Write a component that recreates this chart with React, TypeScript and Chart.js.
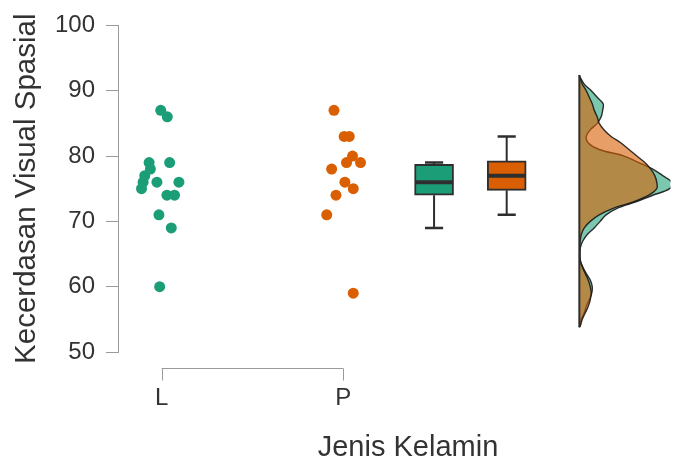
import React, { useEffect, useRef } from 'react';
import { Chart, registerables } from 'chart.js';

Chart.register(...registerables);

// ---------- data ----------
const categories = ['L', 'P'];
const xAxisTitle = 'Jenis Kelamin';
const yAxisTitle = 'Kecerdasan Visual Spasial';
const yMin = 50;
const yMax = 100;
const yStep = 10;

// raw observations (cloud points) and their horizontal jitter (category units)
const lValues = [87, 86, 79, 79, 78, 77, 76, 76, 76, 75, 74, 74, 71, 69, 60];
const lJitter = [-0.005, 0.031, -0.069, 0.044, -0.062, -0.093, -0.102, -0.026, 0.095, -0.111, 0.029, 0.071, -0.015, 0.053, -0.011];
const pValues = [87, 83, 83, 80, 79, 79, 78, 76, 75, 74, 71, 59];
const pJitter = [-0.051, 0.005, 0.033, 0.051, 0.018, 0.095, -0.064, 0.009, 0.055, -0.04, -0.091, 0.055];

// box summaries: [lower whisker, Q1, median, Q3, upper whisker]
const lBox = [69, 74, 76, 78.75, 79];
const pBox = [71, 74.75, 77, 79.25, 83];

// density (half violin)
const densityGrid = [53.8, 54, 55, 56, 57, 58, 59, 60, 61, 62, 63, 64, 65, 66, 67, 68, 69, 70, 71, 72, 73, 74, 75, 76, 77, 78, 79, 80, 81, 82, 83, 84, 85, 86, 87, 88, 89, 90, 91, 92, 92.4];
const lDensity = [0, 0.5, 2, 5, 7, 10, 12.5, 13, 11, 7, 3.5, 1, 0.5, 1, 3.5, 8, 15, 21, 27, 38, 57, 74, 91, 93, 84, 74, 60, 45, 20, 9, 7, 11, 18, 22, 23.5, 24, 18, 12, 5, 1, 0];
const pDensity = [0, 1, 3, 6, 9, 11, 12, 11, 9, 6, 3, 1, 0.5, 0.5, 0.8, 2, 5, 11, 20, 34, 55, 70, 78, 78, 76, 72, 66, 58, 50, 42, 32, 25, 20, 18, 15, 13, 10, 7, 3, 0.5, 0];

// ---------- layout (category units on the x scale) ----------
const boxPositions = [1.5, 1.9];
const boxHalf = 0.105;
const capHalf = 0.05;
const densityBase = 2.3;
const densityUnit = 1 / 183;

const GREEN = '#1b9e77';
const ORANGE = '#d95f02';
const GREEN_FILL = 'rgba(27,158,119,0.58)';
const ORANGE_FILL = 'rgba(217,95,2,0.6)';
const DARK = '#2e2e2e';
const AXIS_COLOR = '#9a9a9a';
const TEXT_COLOR = '#333333';
const FONT = '"Liberation Sans", Arial, Helvetica, sans-serif';

function seg(points: { x: number; y: number }[], width: number, order: number) {
  return {
    type: 'scatter' as const,
    data: points,
    showLine: true,
    borderColor: DARK,
    borderWidth: width,
    pointRadius: 0,
    order,
  };
}

function boxParts(pos: number, box: number[]) {
  const [lo, q1, med, q3, hi] = box;
  return [
    seg([{ x: pos, y: q3 }, { x: pos, y: hi }], 2, 2),
    seg([{ x: pos, y: lo }, { x: pos, y: q1 }], 2, 2),
    seg([{ x: pos - capHalf, y: hi }, { x: pos + capHalf, y: hi }], 2.5, 2),
    seg([{ x: pos - capHalf, y: lo }, { x: pos + capHalf, y: lo }], 2.5, 2),
    seg([{ x: pos - boxHalf, y: med }, { x: pos + boxHalf, y: med }], 4, 0),
  ];
}

function densityData(values: number[]) {
  return densityGrid.map((y, i) => ({ x: densityBase + values[i] * densityUnit, y }));
}

const rangeAxisPlugin = {
  id: 'rangeAxis',
  afterDraw(chart: any) {
    const { ctx, chartArea, scales } = chart;
    const xs = scales.x;
    const yLine = Math.round(chartArea.bottom + 16) + 0.5;
    const x0 = xs.getPixelForValue(0);
    const x1 = xs.getPixelForValue(categories.length - 1);
    ctx.save();
    ctx.strokeStyle = AXIS_COLOR;
    ctx.lineWidth = 1;
    ctx.beginPath();
    ctx.moveTo(x0, yLine);
    ctx.lineTo(x1, yLine);
    categories.forEach((_, i) => {
      const px = Math.round(xs.getPixelForValue(i)) + 0.5;
      ctx.moveTo(px, yLine);
      ctx.lineTo(px, yLine + 12);
    });
    ctx.stroke();
    ctx.fillStyle = TEXT_COLOR;
    ctx.font = `29px ${FONT}`;
    ctx.textAlign = 'center';
    ctx.textBaseline = 'alphabetic';
    ctx.fillText(xAxisTitle, 408, 456);
    ctx.restore();
  },
};

export default function App() {
  const canvasRef = useRef<HTMLCanvasElement | null>(null);

  useEffect(() => {
    document.body.style.margin = '0';
    const canvas = canvasRef.current;
    if (!canvas) return;

    const datasets: any[] = [
      {
        type: 'scatter',
        data: lValues.map((v, i) => ({ x: 0 + lJitter[i], y: v })),
        backgroundColor: GREEN,
        borderWidth: 0,
        pointRadius: 5.5,
        order: 0,
      },
      {
        type: 'scatter',
        data: pValues.map((v, i) => ({ x: 1 + pJitter[i], y: v })),
        backgroundColor: ORANGE,
        borderWidth: 0,
        pointRadius: 5.5,
        order: 0,
      },
      {
        type: 'bar',
        data: [
          { x: boxPositions[0], y: [lBox[1], lBox[3]] },
          { x: boxPositions[1], y: [pBox[1], pBox[3]] },
        ],
        backgroundColor: [GREEN, ORANGE],
        borderColor: DARK,
        borderWidth: 2,
        borderSkipped: false,
        barThickness: 39,
        order: 1,
      },
      ...boxParts(boxPositions[0], lBox),
      ...boxParts(boxPositions[1], pBox),
      {
        type: 'line',
        indexAxis: 'y',
        data: densityData(pDensity),
        borderColor: 'rgba(25,25,25,0.9)',
        borderWidth: 1.4,
        backgroundColor: ORANGE_FILL,
        fill: { value: densityBase },
        pointRadius: 0,
        tension: 0.35,
        order: 3,
      },
      {
        type: 'line',
        indexAxis: 'y',
        data: densityData(lDensity),
        borderColor: 'rgba(25,25,25,0.9)',
        borderWidth: 1.4,
        backgroundColor: GREEN_FILL,
        fill: { value: densityBase },
        pointRadius: 0,
        tension: 0.35,
        order: 4,
      },
      seg([{ x: densityBase, y: densityGrid[0] }, { x: densityBase, y: densityGrid[densityGrid.length - 1] }], 2, 2),
    ];

    const chart = new Chart(canvas, {
      type: 'scatter',
      data: { datasets },
      plugins: [rangeAxisPlugin],
      options: {
        responsive: false,
        animation: false,
        devicePixelRatio: 1,
        events: [],
        layout: { padding: { top: 23, right: 1, bottom: 0, left: 0 } },
        plugins: { legend: { display: false }, tooltip: { enabled: false } },
        scales: {
          x: {
            type: 'linear',
            min: -0.2404,
            max: 2.8020,
            offset: false,
            grid: { display: false, drawTicks: false, offset: false },
            border: { display: false },
            afterBuildTicks: (scale: any) => {
              scale.ticks = categories.map((_, i) => ({ value: i }));
            },
            afterFit: (scale: any) => {
              scale.height = 107;
            },
            ticks: {
              padding: 32,
              color: TEXT_COLOR,
              font: { size: 24, family: FONT },
              maxRotation: 0,
              autoSkip: false,
              callback: (v: any) => categories[Math.round(Number(v))] ?? '',
            },
          },
          y: {
            type: 'linear',
            min: yMin,
            max: yMax,
            afterFit: (scale: any) => {
              scale.width = 118;
            },
            ticks: {
              stepSize: yStep,
              padding: 11,
              color: TEXT_COLOR,
              font: { size: 24, family: FONT },
            },
            grid: {
              display: true,
              drawOnChartArea: false,
              drawTicks: true,
              tickLength: 12,
              color: AXIS_COLOR,
              lineWidth: 1,
            },
            border: { display: true, color: AXIS_COLOR, width: 1 },
            title: {
              display: true,
              text: yAxisTitle,
              color: TEXT_COLOR,
              font: { size: 29.5, family: FONT },
              padding: { top: 9.5, bottom: 0 },
            },
          },
        },
      } as any,
    });

    return () => chart.destroy();
  }, []);

  return (
    <div style={{ width: 676, height: 459, position: 'relative', background: '#fff' }}>
      <canvas ref={canvasRef} width={676} height={459} style={{ display: 'block' }} />
    </div>
  );
}
